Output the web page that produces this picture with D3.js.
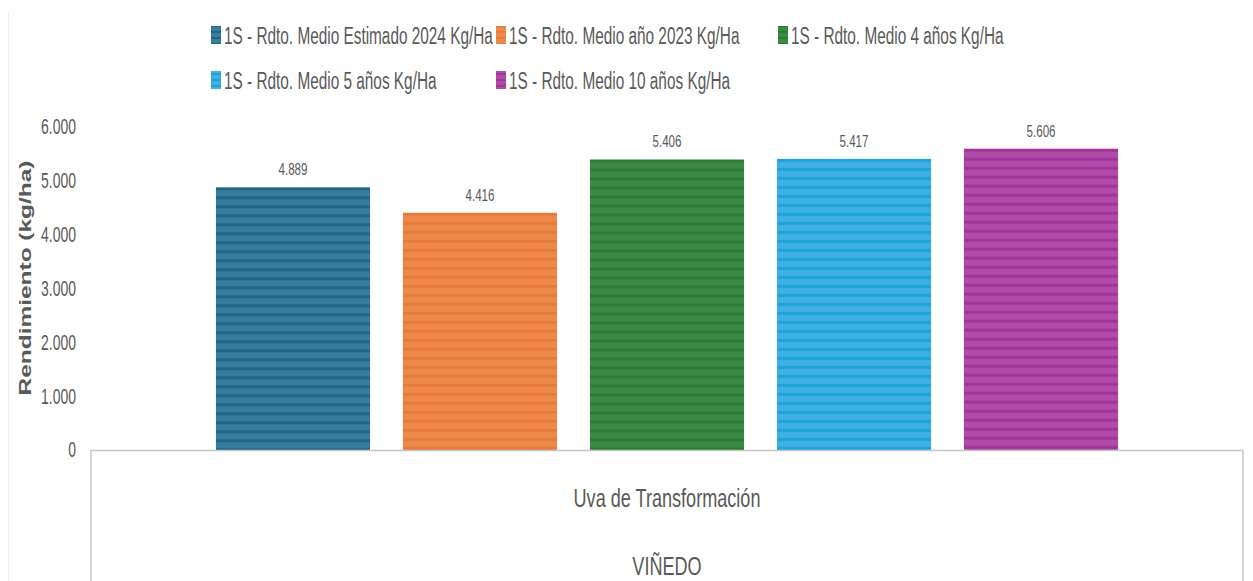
<!DOCTYPE html>
<html><head><meta charset="utf-8">
<script src="https://cdn.jsdelivr.net/npm/d3@7"></script>
<style>
body{margin:0;background:#fff}
svg{display:block}
text{font-family:"Liberation Sans",Arial,sans-serif;fill:#595959}
</style>
</head><body>
<svg id="chart" width="1253" height="581"></svg>
<script>
// ---- data ----
const categories = ["Uva de Transformación"];
const groupLabels = ["VIÑEDO"];
const seriesNames = [
  "1S - Rdto. Medio Estimado 2024 Kg/Ha",
  "1S - Rdto. Medio año 2023 Kg/Ha",
  "1S - Rdto. Medio 4 años Kg/Ha",
  "1S - Rdto. Medio 5 años Kg/Ha",
  "1S - Rdto. Medio 10 años Kg/Ha"
];
const seriesValues = [4889, 4416, 5406, 5417, 5606];
const yTickValues = [0, 1000, 2000, 3000, 4000, 5000, 6000];
const yAxisTitle = "Rendimiento (kg/ha)";

// ---- styles ----
const colorsDark  = ["#1f6688", "#e97b38", "#2b7a36", "#20a3da", "#a3349b"];
const colorsLight = ["#387b9b", "#ee894d", "#3c8944", "#3daff0", "#ae4ca7"];
colorsLight[3] = "#3eb0e2";

const W = 1253, H = 581;
const plot = {left: 91, right: 1243, top: 127.5, bottom: 450.5};
const svg = d3.select("#chart");
svg.append("rect").attr("width", W).attr("height", H).attr("fill", "#fff");

const locale = d3.formatLocale({decimal: ",", thousands: ".", grouping: [3], currency: ["", ""]});
const fmt = locale.format(",.0f");

// measure helper: horizontal squeeze factor so a sample string reaches a target width
function squeeze(sample, size, target, weight) {
  const t = svg.append("text").style("font-size", size + "px").style("font-weight", weight || "normal").text(sample);
  const w = t.node().getComputedTextLength();
  t.remove();
  return target / w;
}
const kLegend = squeeze(seriesNames[0], 24.5, 269);
const kTick = squeeze("6.000", 21.5, 35);
const kLbl = squeeze("4.889", 17, 29);
const kCat = squeeze(categories[0], 25.5, 187);
const kTitle = squeeze(yAxisTitle, 16, 235, "bold");

const y = d3.scaleLinear().domain([0, 6000]).range([plot.bottom, plot.top]);
const x0 = d3.scaleBand().domain(categories).range([plot.left, plot.right]);
const x1 = d3.scaleBand().domain(seriesNames).range([0, x0.bandwidth()])
  .paddingInner(0.176).paddingOuter(0.668);

// faint chart border on left
svg.append("line").attr("x1", 8.5).attr("x2", 8.5).attr("y1", 12).attr("y2", H)
  .attr("stroke", "#ececec").attr("stroke-width", 1);

// patterns
const defs = svg.append("defs");
seriesNames.forEach((s, i) => {
  const p = defs.append("pattern").attr("id", "pat" + i)
    .attr("patternUnits", "userSpaceOnUse")
    .attr("x", 0).attr("y", y(seriesValues[i]))
    .attr("width", 10).attr("height", 9);
  p.append("rect").attr("width", 10).attr("height", 9).attr("fill", colorsLight[i]);
  p.append("rect").attr("width", 10).attr("height", 3).attr("fill", colorsDark[i]);
});

// bars
const gBars = svg.append("g");
categories.forEach(cat => {
  gBars.selectAll("rect.bar").data(seriesValues).join("rect")
    .attr("class", "bar")
    .attr("x", (d, i) => x0(cat) + x1(seriesNames[i]))
    .attr("y", d => y(d))
    .attr("width", x1.bandwidth())
    .attr("height", d => y(0) - y(d))
    .attr("fill", (d, i) => `url(#pat${i})`);

  gBars.selectAll("text.lbl").data(seriesValues).join("text")
    .attr("class", "lbl")
    .attr("transform", (d, i) => `translate(${x0(cat) + x1(seriesNames[i]) + x1.bandwidth() / 2},${y(d) - 12}) scale(${kLbl},1)`)
    .attr("text-anchor", "middle")
    .style("font-size", "17px")
    .text(d => fmt(d));
});

// y axis labels
const yAxis = d3.axisLeft(y).tickValues(yTickValues).tickSize(0).tickPadding(0).tickFormat(fmt);
const gy = svg.append("g").attr("transform", "translate(76,0)").call(yAxis);
gy.select(".domain").remove();
gy.selectAll("text").attr("x", 0).attr("dy", "0.3em")
  .attr("transform", `scale(${kTick},1)`)
  .style("font-size", "21.5px").style("font-family", "'Liberation Sans',Arial,sans-serif")
  .attr("fill", "#595959");

// y axis title
svg.append("text")
  .attr("transform", `translate(31,278) rotate(-90) scale(${kTitle},1)`)
  .attr("text-anchor", "middle")
  .style("font-weight", "bold").style("font-size", "16px")
  .text(yAxisTitle);

// category axis lines (multi-level)
const axisColor = "#c6c6c6";
svg.append("line").attr("x1", plot.left).attr("x2", plot.right).attr("y1", plot.bottom).attr("y2", plot.bottom)
  .attr("stroke", axisColor).attr("stroke-width", 1.5);
svg.append("line").attr("x1", plot.left).attr("x2", plot.left).attr("y1", plot.bottom - 0.75).attr("y2", H)
  .attr("stroke", axisColor).attr("stroke-width", 1.5);
svg.append("line").attr("x1", plot.right).attr("x2", plot.right).attr("y1", plot.bottom - 0.75).attr("y2", H)
  .attr("stroke", axisColor).attr("stroke-width", 1.5);

categories.forEach(cat => {
  svg.append("text")
    .attr("transform", `translate(${x0(cat) + x0.bandwidth() / 2},507) scale(${kCat},1)`)
    .attr("text-anchor", "middle").style("font-size", "25.5px").text(cat);
});
svg.append("text")
  .attr("transform", `translate(${(plot.left + plot.right) / 2},575) scale(${kCat},1)`)
  .attr("text-anchor", "middle").style("font-size", "25.5px").text(groupLabels[0]);

// legend
const legColX = [211, 496, 778];
const legRowY = [35, 80];
const leg = svg.append("g");
seriesNames.forEach((s, i) => {
  const cx = legColX[i % 3], cy = legRowY[Math.floor(i / 3)];
  const lp = defs.append("pattern").attr("id", "lpat" + i).attr("patternUnits", "userSpaceOnUse")
    .attr("x", 0).attr("y", cy - 9).attr("width", 10).attr("height", 6);
  lp.append("rect").attr("width", 10).attr("height", 6).attr("fill", colorsLight[i]);
  lp.append("rect").attr("width", 10).attr("height", 2).attr("fill", colorsDark[i]);
  const g = leg.append("g").attr("transform", `translate(${cx},${cy})`);
  g.append("rect").attr("x", 0).attr("y", -9).attr("width", 10).attr("height", 18).attr("fill", `url(#lpat${i})`);
  g.append("text").attr("transform", `translate(13,8.5) scale(${kLegend},1)`)
    .style("font-size", "24.5px").text(s);
});
</script>
</body></html>
